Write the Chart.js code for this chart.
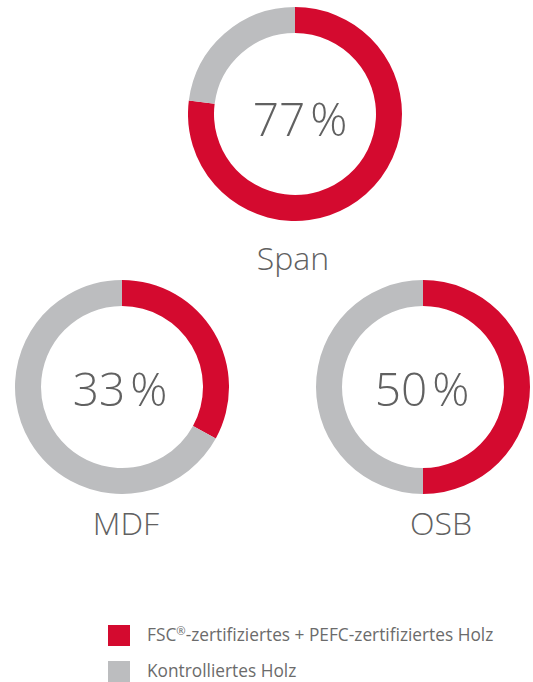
<!DOCTYPE html>
<html>
<head>
<meta charset="utf-8">
<script src="https://cdn.jsdelivr.net/npm/chart.js@4"></script>
<style>
  html, body { margin:0; padding:0; background:#fff; }
  body { width:533px; height:682px; position:relative; overflow:hidden; font-family:"Open Sans", "Noto Sans", sans-serif; color:#616161; }
  .box { position:absolute; }
  .pct { position:absolute; text-align:center; font-weight:300; font-size:46px; line-height:1; white-space:nowrap; }
  .pct .ps { margin-left:5px; }
  .lbl { position:absolute; text-align:center; font-weight:300; font-size:32px; line-height:1; white-space:nowrap; }
  .leg { position:absolute; left:108px; font-size:17.3px; font-weight:400; color:#6b6b6b; white-space:nowrap; }
  .leg span.sw { position:absolute; left:0; top:0; width:22px; height:21px; }
  .leg span.tx { position:absolute; left:39px; top:-1px; line-height:21px; }
  sup { font-size:0.65em; vertical-align:0.55em; line-height:0; }
</style>
</head>
<body>
<script>
// ---- data ----
const categories = ["Span", "MDF", "OSB"];
const certified = [77, 33, 50];      // FSC + PEFC zertifiziertes Holz (%)
const controlled = [23, 67, 50];     // Kontrolliertes Holz (%)
const seriesLabels = ["FSC®-zertifiziertes + PEFC-zertifiziertes Holz", "Kontrolliertes Holz"];
const seriesColors = ["#D40A2F", "#BCBDBF"];

// ---- layout (positions only) ----
const layout = [
  { left:188, top:7,   size:214, pctDx:5, pctDy:4, lblX:293, lblY:242 },
  { left:15,  top:280, size:214, pctDx:-2, pctDy:1, lblX:126, lblY:507 },
  { left:316, top:280, size:214, pctDx:-1, pctDy:1, lblX:441, lblY:507 }
];

categories.forEach((cat, i) => {
  const L = layout[i];
  const box = document.createElement('div');
  box.className = 'box';
  box.style.left = L.left + 'px'; box.style.top = L.top + 'px';
  box.style.width = L.size + 'px'; box.style.height = L.size + 'px';
  const cv = document.createElement('canvas');
  box.appendChild(cv);
  document.body.appendChild(box);

  new Chart(cv, {
    type: 'doughnut',
    data: {
      labels: seriesLabels,
      datasets: [{
        data: [certified[i], controlled[i]],
        backgroundColor: seriesColors,
        borderWidth: 0
      }]
    },
    options: {
      responsive: true,
      maintainAspectRatio: false,
      animation: false,
      cutout: '75.7%',
      layout: { padding: 0 },
      plugins: { legend: { display: false }, tooltip: { enabled: false } },
      events: []
    }
  });

  const pct = document.createElement('div');
  pct.className = 'pct';
  pct.appendChild(document.createTextNode(String(certified[i])));
  const ps = document.createElement('span');
  ps.className = 'ps'; ps.textContent = '%';
  pct.appendChild(ps);
  pct.style.width = '200px';
  pct.style.left = (L.left + L.size / 2 - 100 + L.pctDx) + 'px';
  pct.style.top = (L.top + L.size / 2 - 23 + L.pctDy) + 'px';
  document.body.appendChild(pct);

  const lbl = document.createElement('div');
  lbl.className = 'lbl';
  lbl.textContent = cat;
  lbl.style.width = '200px';
  lbl.style.left = (L.lblX - 100) + 'px';
  lbl.style.top = L.lblY + 'px';
  document.body.appendChild(lbl);
});

// legend
const legTops = [625, 661];
seriesLabels.forEach((s, i) => {
  const d = document.createElement('div');
  d.className = 'leg';
  d.style.top = legTops[i] + 'px';
  const sw = document.createElement('span');
  sw.className = 'sw'; sw.style.background = seriesColors[i];
  const tx = document.createElement('span');
  tx.className = 'tx';
  if (s.includes('®')) {
    const parts = s.split('®');
    tx.appendChild(document.createTextNode(parts[0]));
    const sup = document.createElement('sup'); sup.textContent = '®';
    tx.appendChild(sup);
    tx.appendChild(document.createTextNode(parts[1]));
  } else {
    tx.textContent = s;
  }
  d.appendChild(sw); d.appendChild(tx);
  document.body.appendChild(d);
});
</script>
</body>
</html>
